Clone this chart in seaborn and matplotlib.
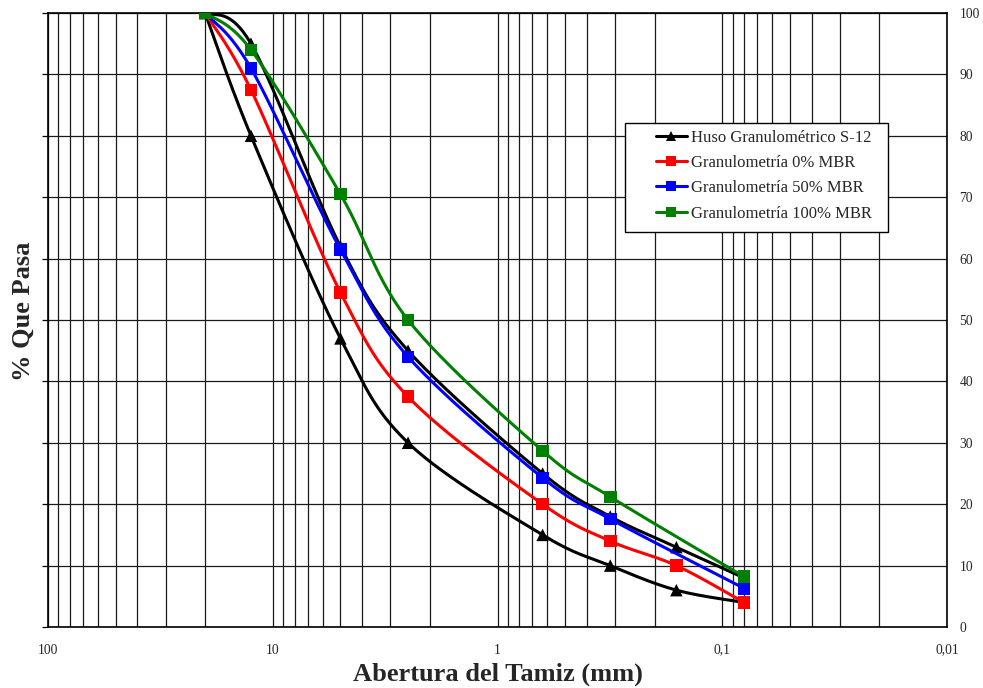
import numpy as np
import pandas as pd
import matplotlib
matplotlib.use("Agg")
import matplotlib.pyplot as plt
from matplotlib.lines import Line2D
from matplotlib.patches import Rectangle
from matplotlib.ticker import LogLocator, FixedLocator, NullFormatter
import seaborn as sns

# Sieve openings (mm)
sieve_mm = [20, 12.5, 5, 2.5, 0.63, 0.315, 0.16, 0.08]
sieve_mbr = [20, 12.5, 5, 2.5, 0.63, 0.315, 0.08]

# Grading envelope S-12 (lower and upper limits, % passing)
huso_inf = [100, 80, 47, 30, 15, 10, 6, 4]
huso_sup = [100, 95, 62, 45, 25, 18, 13, 8]

# Mix gradings (% passing)
mbr_0 = [100, 87.5, 54.5, 37.5, 20, 14, 10, 4]
mbr_50 = [100, 91, 61.5, 44, 24.3, 17.6, 6.3]
mbr_100 = [100, 94, 70.5, 50, 28.7, 21.2, 8.2]

x_ticks = [100, 10, 1, 0.1, 0.01]
x_ticklabels = ["100", "10", "1", "0,1", "0,01"]
y_ticks = list(range(0, 101, 10))

labels = ["Huso Granulométrico S-12", "Granulometría 0% MBR",
          "Granulometría 50% MBR", "Granulometría 100% MBR"]
colors = ["#000000", "#FF0000", "#0000FF", "#008000"]


def smooth(xs, ys, n=40):
    """Uniform Catmull-Rom curve through the points, in log-x space."""
    p = np.column_stack([np.log10(np.asarray(xs, float)), np.asarray(ys, float)])
    ext = np.vstack([p[0], p, p[-1]])
    out = []
    t = np.linspace(0, 1, n, endpoint=False)[:, None]
    for i in range(1, len(ext) - 2):
        p0, p1, p2, p3 = ext[i - 1], ext[i], ext[i + 1], ext[i + 2]
        seg = 0.5 * ((2 * p1) + (-p0 + p2) * t + (2 * p0 - 5 * p1 + 4 * p2 - p3) * t ** 2
                     + (-p0 + 3 * p1 - 3 * p2 + p3) * t ** 3)
        out.append(seg)
    out.append(p[-1][None, :])
    c = np.vstack(out)
    return pd.DataFrame({"x": 10 ** c[:, 0], "y": c[:, 1]})


sns.set_style("white")
plt.rcParams["font.family"] = ["Liberation Serif", "DejaVu Serif"]

W, H = 983, 688
L, R, T, B = 48, 947, 13, 627
fig = plt.figure(figsize=(W / 100, H / 100), dpi=100)
ax = fig.add_axes([L / W, 1 - B / H, (R - L) / W, (B - T) / H])

ax.set_xscale("log")
ax.set_xlim(100, 0.01)
ax.set_ylim(0, 100)

LW = 2.2
# (x, y, marker, marker size) for each curve; the envelope has two limits
series = [
    [(sieve_mm, huso_inf, "^", 9), (sieve_mm[::-1], huso_sup[::-1], "^", 9)],
    [(sieve_mm, mbr_0, "s", 9)],
    [(sieve_mbr, mbr_50, "s", 9)],
    [(sieve_mbr, mbr_100, "s", 9)],
]

for i, (parts, col) in enumerate(zip(series, colors)):
    for xs, ys, mk, ms in parts:
        curve = smooth(xs, ys)
        sns.lineplot(data=curve, x="x", y="y", sort=False, estimator=None,
                     color=col, lw=LW, ax=ax, zorder=3 + i * 2, legend=False)
        pts = pd.DataFrame({"x": xs, "y": ys})
        sns.scatterplot(data=pts, x="x", y="y", marker=mk, s=ms ** 2, color=col,
                        edgecolor="none", linewidth=0, ax=ax, zorder=4 + i * 2,
                        legend=False)

# Grid
ax.xaxis.set_major_locator(FixedLocator(x_ticks))
ax.xaxis.set_minor_locator(LogLocator(base=10, subs=np.arange(2, 10)))
ax.xaxis.set_minor_formatter(NullFormatter())
ax.set_xticklabels(x_ticklabels)
ax.set_yticks(y_ticks)
ax.grid(True, which="both", axis="x", color="#1a1a1a", lw=0.9)
ax.grid(True, which="major", axis="y", color="#1a1a1a", lw=0.9)

ax.tick_params(axis="x", which="both", length=0, pad=12, labelsize=9.8)
ax.tick_params(axis="y", which="major", left=True, right=True, labelleft=False,
               labelright=True, direction="out", length=4, width=0.9,
               color="black", pad=5, labelsize=9.8)
for tk in ax.yaxis.get_major_ticks():
    tk.tick2line.set_visible(False)
for s in ax.spines.values():
    s.set_visible(True)
    s.set_color("black")
    s.set_linewidth(1.2)

ax.set_xlabel("Abertura del Tamiz (mm)", fontsize=19, fontweight="bold", labelpad=4)
ax.set_ylabel("% Que Pasa", fontsize=19, fontweight="bold")


def ax_xy(px, py):
    return (px - L) / (R - L), 1 - (py - T) / (B - T)


ax.yaxis.set_label_coords(*ax_xy(35, 311))

# Legend box with a blank margin left of the handles
x0, y0 = ax_xy(625, 232)
x1, y1 = ax_xy(888, 123)
ax.add_patch(Rectangle((x0, y0), x1 - x0, y1 - y0, transform=ax.transAxes,
                       facecolor="white", edgecolor="black", lw=1.0, zorder=19))

handles = [Line2D([0], [0], color=c, lw=LW, marker=m, markersize=7,
                  markeredgewidth=0)
           for c, m in zip(colors, ["^", "s", "s", "s"])]
leg = ax.legend(handles, labels, loc="upper left",
                bbox_to_anchor=ax_xy(651, 125),
                frameon=False, fontsize=12, handlelength=1.85, handletextpad=0.25,
                labelspacing=0.55, borderpad=0.3, borderaxespad=0)
leg.set_zorder(20)

fig.savefig("out.png", dpi=100)
